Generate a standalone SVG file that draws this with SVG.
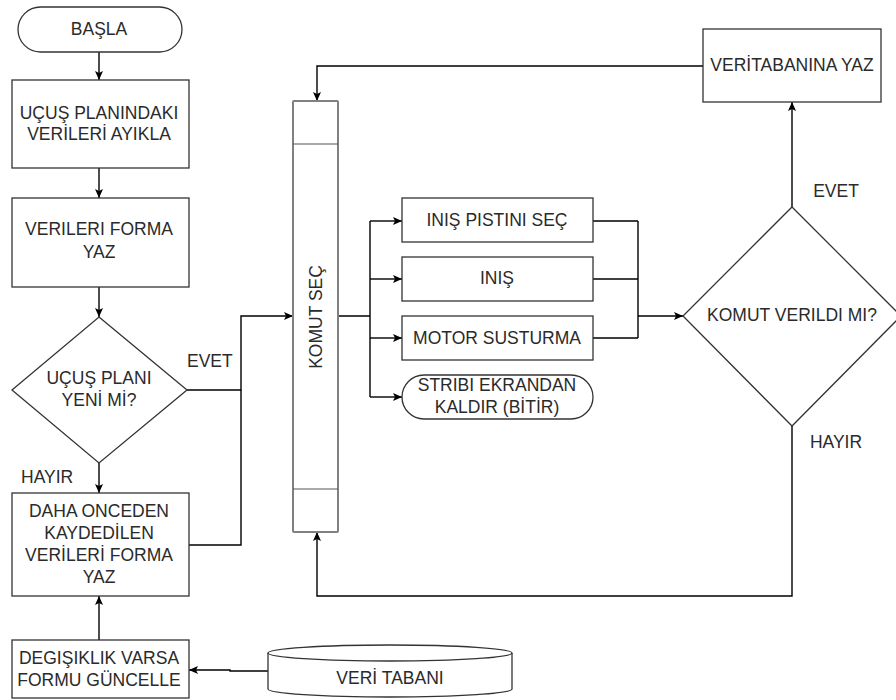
<svg xmlns="http://www.w3.org/2000/svg" width="896" height="700" viewBox="0 0 896 700">
<defs>
<marker id="ah" markerUnits="userSpaceOnUse" markerWidth="10" markerHeight="10" viewBox="0 0 10 10" refX="9" refY="5" orient="auto">
<path d="M0,1 L9,5 L0,9 L2,5 Z" fill="#000"/>
</marker>
<style>
.n{fill:#fff;stroke:#333;stroke-width:1.3}
.col{fill:#fff;stroke:#808080;stroke-width:2}
.t{font-family:"Liberation Sans",Arial,sans-serif;font-size:17.5px;fill:#2a2a2a;text-anchor:middle}
.l{font-family:"Liberation Sans",Arial,sans-serif;font-size:17.5px;fill:#2a2a2a}
.c{fill:none;stroke:#000;stroke-width:1.4}
.a{marker-end:url(#ah)}
</style>
</defs>
<rect width="896" height="700" fill="#fff"/>

<g id="connectors">
<path class="c a" d="M99,52 V80"/>
<path class="c a" d="M99,168 V198"/>
<path class="c a" d="M99,287 V317"/>
<path class="c a" d="M99,463 V493"/>
<path class="c a" d="M187,390 H241 V316 H293"/>
<path class="c" d="M189,545 H241 V390"/>
<path class="c a" d="M99,640 V596"/>
<path class="c a" d="M268,671 H230 V670 H189"/>
<path class="c" d="M338,316 H370 M370,221 V397"/>
<path class="c a" d="M370,221 H402"/>
<path class="c a" d="M370,279 H402"/>
<path class="c a" d="M370,338 H402"/>
<path class="c a" d="M370,397 H402"/>
<path class="c" d="M593,221 H638 M593,279 H638 M593,338 H638 M638,221 V338"/>
<path class="c a" d="M638,316 H683"/>
<path class="c a" d="M792,207 V102"/>
<path class="c a" d="M703,66 H317 V101"/>
<path class="c a" d="M792,426 V596 H317 V532"/>
<text class="l" x="187" y="367">EVET</text>
<text class="l" x="21" y="483">HAYIR</text>
<text class="t" x="836" y="197">EVET</text>
<text class="t" x="836" y="448">HAYIR</text>
</g>

<g id="basla">
<rect class="n" x="18" y="7" width="164" height="45" rx="22.5"/>
<text class="t" x="99" y="35">BAŞLA</text>
</g>

<g id="ayikla">
<rect class="n" x="12" y="80" width="177" height="88"/>
<text class="t" x="99" y="119">UÇUŞ PLANINDAKI</text>
<text class="t" x="99" y="140">VERİLERİ AYIKLA</text>
</g>

<g id="formayaz">
<rect class="n" x="12" y="198" width="177" height="89"/>
<text class="t" x="99" y="235">VERILERI FORMA</text>
<text class="t" x="99" y="258">YAZ</text>
</g>

<g id="yenimi">
<path class="n" d="M99,317 L187,390 L99,463 L12,390 Z"/>
<text class="t" x="99" y="384">UÇUŞ PLANI</text>
<text class="t" x="99" y="406">YENİ Mİ?</text>
</g>

<g id="onceden">
<rect class="n" x="12" y="493" width="177" height="103"/>
<text class="t" x="99" y="517">DAHA ONCEDEN</text>
<text class="t" x="99" y="539">KAYDEDİLEN</text>
<text class="t" x="99" y="561">VERİLERİ FORMA</text>
<text class="t" x="99" y="583">YAZ</text>
</g>

<g id="guncelle">
<rect class="n" x="12" y="640" width="177" height="58"/>
<text class="t" x="99" y="664">DEGIŞIKLIK VARSA</text>
<text class="t" x="99" y="686">FORMU GÜNCELLE</text>
</g>

<g id="veritabani">
<path class="n" d="M268,653 A122,8 0 0 1 512,653 V689 A122,8 0 0 1 268,689 Z"/>
<path class="n" fill="none" d="M268,653 A122,8 0 0 0 512,653"/>
<text class="t" x="390" y="684">VERİ TABANI</text>
</g>

<g id="komutsec">
<rect class="col" x="293" y="101" width="45" height="431" rx="1"/>
<path d="M293,144 H338 M293,489 H338" stroke="#555" stroke-width="1.2"/>
<text class="t" transform="translate(322,317) rotate(-90)">KOMUT SEÇ</text>
</g>

<g id="pist">
<rect class="n" x="402" y="198" width="191" height="44"/>
<text class="t" x="497" y="226">INIŞ PISTINI SEÇ</text>
</g>

<g id="inis">
<rect class="n" x="402" y="257" width="191" height="44"/>
<text class="t" x="497" y="284">INIŞ</text>
</g>

<g id="motor">
<rect class="n" x="402" y="316" width="191" height="44"/>
<text class="t" x="497" y="344">MOTOR SUSTURMA</text>
</g>

<g id="bitir">
<rect class="n" x="402" y="375" width="191" height="44" rx="22"/>
<text class="t" x="497" y="391">STRIBI EKRANDAN</text>
<text class="t" x="497" y="413">KALDIR (BİTİR)</text>
</g>

<g id="verildimi">
<path class="n" d="M792,207 L901,316 L792,426 L683,316 Z"/>
<text class="t" x="792" y="321">KOMUT VERILDI MI?</text>
</g>

<g id="dbyaz">
<rect class="n" x="703" y="29" width="178" height="73"/>
<text class="t" x="792" y="71">VERİTABANINA YAZ</text>
</g>
</svg>
